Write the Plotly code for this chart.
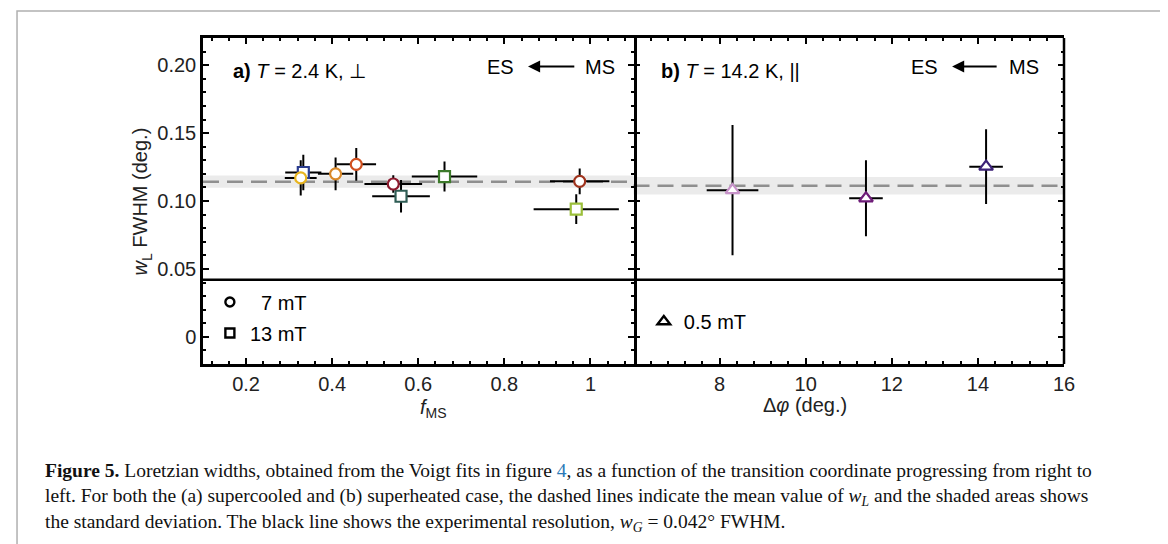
import plotly.graph_objects as go

# ---------------- data ----------------
# panel a: T = 2.4 K, perpendicular
a_f_ms = [0.333, 0.327, 0.408, 0.456, 0.542, 0.560, 0.661, 0.975, 0.967]
a_w_l = [0.121, 0.117, 0.120, 0.127, 0.1125, 0.1035, 0.118, 0.1145, 0.094]
a_f_err = [0.042, 0.037, 0.041, 0.046, 0.067, 0.067, 0.076, 0.069, 0.099]
a_w_err = [0.013, 0.013, 0.012, 0.012, 0.0065, 0.012, 0.011, 0.0095, 0.011]
a_field = ["13 mT", "7 mT", "7 mT", "7 mT", "7 mT", "13 mT", "13 mT", "7 mT", "13 mT"]
a_colors = ["#2b3d8f", "#e8b520", "#d9892a", "#d0501f", "#8c1a2e",
            "#2f5d55", "#3c7a2a", "#a0341e", "#9bbf3a"]
a_mean = 0.1142
a_std = 0.0045

# panel b: T = 14.2 K, parallel
b_dphi = [8.30, 11.40, 14.19]
b_w_l = [0.108, 0.102, 0.1253]
b_dphi_err = [0.60, 0.39, 0.39]
b_w_err = [0.048, 0.028, 0.0276]
b_colors = ["#c793c9", "#6e1c78", "#3b2176"]
b_mean = 0.1112
b_std = 0.0065

w_g = 0.042  # experimental resolution

a_xticks = [0.2, 0.4, 0.6, 0.8, 1.0]
a_xticktext = ["0.2", "0.4", "0.6", "0.8", "1"]
b_xticks = [8, 10, 12, 14, 16]
b_xticktext = ["8", "10", "12", "14", "16"]
yticks = [0, 0.05, 0.10, 0.15, 0.20]
yticktext = ["0", "0.05", "0.10", "0.15", "0.20"]

FONT = "Liberation Sans"
SERIF = "Liberation Serif"
FS = 20

fig = go.Figure()

# error bars (drawn first so markers lie on top)
fig.add_trace(go.Scatter(
    x=a_f_ms, y=a_w_l, mode="markers", xaxis="x", yaxis="y",
    marker=dict(size=1, color="rgba(0,0,0,0)"), showlegend=False, hoverinfo="skip",
    error_x=dict(type="data", array=a_f_err, color="black", thickness=2, width=0),
    error_y=dict(type="data", array=a_w_err, color="black", thickness=2, width=0)))
fig.add_trace(go.Scatter(
    x=b_dphi, y=b_w_l, mode="markers", xaxis="x2", yaxis="y2",
    marker=dict(size=1, color="rgba(0,0,0,0)"), showlegend=False, hoverinfo="skip",
    error_x=dict(type="data", array=b_dphi_err, color="black", thickness=2, width=0),
    error_y=dict(type="data", array=b_w_err, color="black", thickness=2, width=0)))

# markers panel a
for field, sym in [("13 mT", "square"), ("7 mT", "circle")]:
    idx = [i for i, f in enumerate(a_field) if f == field]
    fig.add_trace(go.Scatter(
        x=[a_f_ms[i] for i in idx], y=[a_w_l[i] for i in idx], mode="markers",
        xaxis="x", yaxis="y", showlegend=False,
        marker=dict(symbol=sym, size=11, color="white",
                    line=dict(width=2.2, color=[a_colors[i] for i in idx]))))

# markers panel b
fig.add_trace(go.Scatter(
    x=b_dphi, y=b_w_l, mode="markers", xaxis="x2", yaxis="y2", showlegend=False,
    marker=dict(symbol="triangle-up", size=12, color="white",
                line=dict(width=2.2, color=b_colors))))

# legend entries
fig.add_trace(go.Scatter(x=[None], y=[None], mode="markers", name="  7 mT",
                         marker=dict(symbol="circle", size=9, color="white",
                                     line=dict(width=2.4, color="black")),
                         legend="legend", legendgroup="g1"))
fig.add_trace(go.Scatter(x=[None], y=[None], mode="markers", name="13 mT",
                         marker=dict(symbol="square", size=9, color="white",
                                     line=dict(width=2.4, color="black")),
                         legend="legend", legendgroup="g2"))
fig.add_trace(go.Scatter(x=[None], y=[None], mode="markers", name="0.5 mT",
                         marker=dict(symbol="triangle-up", size=11, color="white",
                                     line=dict(width=2.4, color="black")),
                         legend="legend2"))

shapes = []
# shaded std bands and mean lines
shapes.append(dict(type="rect", xref="x domain", yref="y", x0=0, x1=1,
                   y0=a_mean - a_std, y1=a_mean + a_std, fillcolor="#ebebeb",
                   line=dict(width=0), layer="below"))
shapes.append(dict(type="rect", xref="x2 domain", yref="y2", x0=0, x1=1,
                   y0=b_mean - b_std, y1=b_mean + b_std, fillcolor="#ebebeb",
                   line=dict(width=0), layer="below"))
shapes.append(dict(type="line", xref="x domain", yref="y", x0=0, x1=1,
                   y0=a_mean, y1=a_mean, line=dict(color="#8f8f8f", width=2.5, dash="16px,8px"),
                   layer="below"))
shapes.append(dict(type="line", xref="x2 domain", yref="y2", x0=0, x1=1,
                   y0=b_mean, y1=b_mean, line=dict(color="#8f8f8f", width=2.5, dash="16px,8px"),
                   layer="below"))
# resolution line
shapes.append(dict(type="line", xref="paper", yref="y", x0=0, x1=1, y0=w_g, y1=w_g,
                   line=dict(color="black", width=2.5)))
# right border of panel b
shapes.append(dict(type="line", xref="paper", yref="paper", x0=1, x1=1, y0=0, y1=1,
                   line=dict(color="black", width=2.5)))
# outer frame
shapes.append(dict(type="rect", xref="paper", yref="paper", x0=-0.216, x1=1.1254,
                   y0=-0.5675, y1=1.0828, line=dict(color="#b0b0b0", width=1.5)))

ann = []
ann.append(dict(x=0.165, y=0.1956, xref="x", yref="y", xanchor="left", yanchor="middle",
                text="<b>a)</b> <i>T</i> = 2.4 K, ⊥", showarrow=False,
                font=dict(family=FONT, size=FS, color="black")))
ann.append(dict(x=6.59, y=0.1956, xref="x2", yref="y2", xanchor="left", yanchor="middle",
                text="<b>b)</b> <i>T</i> = 14.2 K, ||", showarrow=False,
                font=dict(family=FONT, size=FS, color="black")))
for xr, es_x, head, tail, ms_x in [("x", 0.79, 0.855, 0.966, 1.022),
                                   ("x2", 12.76, 13.40, 14.47, 15.08)]:
    yr = "y" if xr == "x" else "y2"
    ann.append(dict(x=es_x, y=0.199, xref=xr, yref=yr, text="ES", showarrow=False,
                    font=dict(family=FONT, size=FS, color="black")))
    ann.append(dict(x=ms_x, y=0.199, xref=xr, yref=yr, text="MS", showarrow=False,
                    font=dict(family=FONT, size=FS, color="black")))
    ann.append(dict(x=head, y=0.199, xref=xr, yref=yr, ax=tail, ay=0.199,
                    axref=xr, ayref=yr, text="", showarrow=True, arrowhead=2,
                    arrowsize=1.1, arrowwidth=2.2, arrowcolor="black"))

# axis titles
ann.append(dict(x=-0.0883, y=0.5, xref="paper", yref="paper", textangle=-90,
                text="<i>w</i><sub>L</sub> FWHM (deg.)", showarrow=False,
                font=dict(family=FONT, size=FS, color="#222")))
ann.append(dict(x=0.25, y=-0.181, xref="paper", yref="paper",
                text="<i>f</i><sub>MS</sub>", showarrow=False,
                font=dict(family=FONT, size=FS, color="#222")))
ann.append(dict(x=0.75, y=-0.166, xref="paper", yref="paper",
                text="Δ<i>φ</i> (deg.)", showarrow=False,
                font=dict(family=FONT, size=FS, color="#222")))

# caption (one text block, three lines)
cap = [
    "<b>Figure 5.</b> Loretzian widths, obtained from the Voigt fits in figure "
    "<span style='color:#2a7ab8'>4</span>, as a function of the transition coordinate "
    "progressing from right to",
    "left. For both the (a) supercooled and (b) superheated case, the dashed lines indicate "
    "the mean value of <i>w<sub>L</sub></i> and the shaded areas shows",
    "the standard deviation. The black line shows the experimental resolution, "
    "<i>w<sub>G</sub></i> = 0.042° FWHM.",
]
ann.append(dict(x=-0.1858, y=-0.411, xref="paper", yref="paper",
                xanchor="left", yanchor="middle", align="left", text="<br>".join(cap),
                showarrow=False, font=dict(family=SERIF, size=19.5, color="#111")))

axis_common = dict(linewidth=2.5, linecolor="black", ticks="inside",
                   ticklen=6, tickwidth=2, tickcolor="black", mirror="ticks",
                   showgrid=False, zeroline=False,
                   tickfont=dict(family=FONT, size=FS, color="#222"))
minor_y = dict(ticks="inside", dtick=0.01, tick0=0, ticklen=3, tickwidth=2,
               tickcolor="black")

fig.update_layout(
    width=1168, height=544,
    margin=dict(l=195, r=112, t=30, b=188),
    paper_bgcolor="white", plot_bgcolor="white",
    shapes=shapes, annotations=ann,
    xaxis=dict(domain=[0, 0.5], range=[0.1, 1.1], tickvals=a_xticks, ticktext=a_xticktext,
               anchor="y", showline=True,
               minor=dict(ticks="inside", dtick=0.04, tick0=0, ticklen=3, tickwidth=2,
                          tickcolor="black"),
               **axis_common),
    xaxis2=dict(domain=[0.5, 1], range=[6, 16], tickvals=b_xticks, ticktext=b_xticktext,
                anchor="y2", showline=True,
                minor=dict(ticks="inside", dtick=0.4, tick0=0, ticklen=3, tickwidth=2,
                           tickcolor="black"),
                **axis_common),
    yaxis=dict(range=[-0.02, 0.22], tickvals=yticks, ticktext=yticktext, anchor="x",
               showline=True, minor=minor_y, **axis_common),
    yaxis2=dict(range=[-0.02, 0.22], matches="y", anchor="x2", showticklabels=False,
                tickvals=yticks, showline=False, minor=minor_y, **axis_common),
    legend=dict(x=0.008, y=0.25, xanchor="left", yanchor="top", bgcolor="rgba(0,0,0,0)",
                font=dict(family=FONT, size=FS, color="black"), tracegroupgap=2,
                itemsizing="trace"),
    legend2=dict(x=0.512, y=0.19, xanchor="left", yanchor="top", bgcolor="rgba(0,0,0,0)",
                 font=dict(family=FONT, size=FS, color="black"), itemsizing="trace"),
    showlegend=True,
)

fig.write_html("out.html")
